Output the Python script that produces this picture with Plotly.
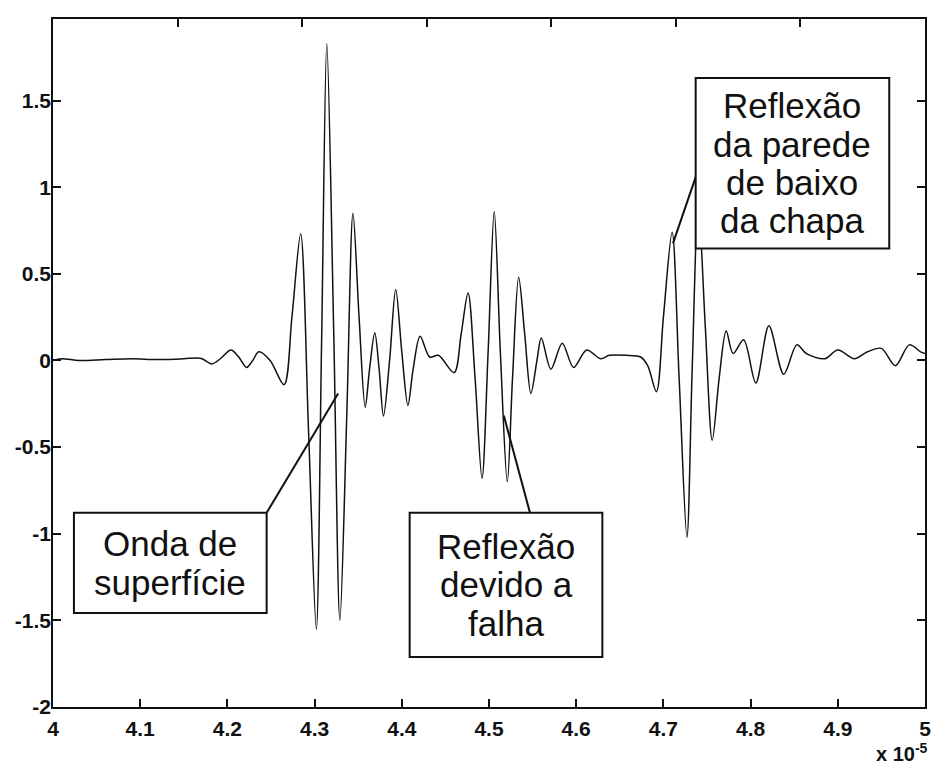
import plotly.graph_objects as go

# Time axis in units of 1e-5 s, amplitude in arbitrary units
time_e5 = [
    4.000, 4.010, 4.030, 4.060, 4.090, 4.120, 4.150, 4.165, 4.171,
    4.182, 4.192, 4.204, 4.213, 4.222, 4.229, 4.236, 4.249, 4.265,
    4.274, 4.284, 4.293, 4.302, 4.308, 4.314, 4.322, 4.329, 4.337,
    4.344, 4.351, 4.358, 4.363, 4.369, 4.374, 4.379, 4.386, 4.393,
    4.400, 4.407, 4.413, 4.421, 4.432, 4.442, 4.460, 4.468, 4.476,
    4.484, 4.492, 4.499, 4.506, 4.513, 4.521, 4.527, 4.534, 4.541,
    4.548, 4.555, 4.560, 4.571, 4.584, 4.597, 4.612, 4.628, 4.638,
    4.657, 4.674, 4.682, 4.692, 4.700, 4.710, 4.718, 4.727, 4.733,
    4.740, 4.748, 4.756, 4.764, 4.772, 4.780, 4.792, 4.806, 4.821,
    4.838, 4.853, 4.864, 4.885, 4.900, 4.919, 4.934, 4.950, 4.966,
    4.982, 4.995, 5.000,
]
amplitude = [
    0.000, 0.010, 0.000, 0.005, 0.010, 0.005, 0.010, 0.015, 0.010,
    -0.020, 0.010, 0.060, 0.020, -0.040, 0.000, 0.050, 0.000, -0.140,
    0.250, 0.730, -0.400, -1.550, 0.100, 1.830, 0.150, -1.500, -0.300,
    0.850, 0.250, -0.270, -0.050, 0.160, -0.050, -0.320, 0.000, 0.410,
    0.050, -0.260, -0.050, 0.140, 0.020, 0.030, -0.070, 0.150, 0.390,
    -0.100, -0.680, 0.050, 0.860, 0.050, -0.700, -0.100, 0.480, 0.150,
    -0.190, 0.000, 0.130, -0.050, 0.100, -0.040, 0.060, 0.010, 0.030,
    0.030, 0.020, -0.030, -0.180, 0.250, 0.740, -0.100, -1.020, -0.050,
    0.910, 0.200, -0.460, -0.100, 0.170, 0.040, 0.120, -0.130, 0.200,
    -0.080, 0.090, 0.040, 0.010, 0.060, 0.010, 0.050, 0.070, -0.030,
    0.090, 0.050, 0.040,
]

x_tick_vals = [4.0, 4.1, 4.2, 4.3, 4.4, 4.5, 4.6, 4.7, 4.8, 4.9, 5.0]
x_tick_text = ["4", "4.1", "4.2", "4.3", "4.4", "4.5", "4.6", "4.7", "4.8", "4.9", "5"]
y_tick_vals = [-2.0, -1.5, -1.0, -0.5, 0.0, 0.5, 1.0, 1.5]
y_tick_text = ["-2", "-1.5", "-1", "-0.5", "0", "0.5", "1", "1.5"]
# tick marks along the upper frame (seven equal divisions)
top_tick_vals = [1, 2, 3, 4, 5, 6]

# Callout boxes: lines of text, box corners (x0, y0, x1, y1),
# leader line (from x, from y, to x, to y)
callouts = [
    (["Onda de", "superfície"],
     (4.024, -0.879, 4.245, -1.457),
     (4.245, -0.879, 4.327, -0.190)),
    (["Reflexão", "devido a", "falha"],
     (4.409, -0.879, 4.630, -1.711),
     (4.547, -0.879, 4.517, -0.318)),
    (["Reflexão", "da parede", "de baixo", "da chapa"],
     (4.737, 1.630, 4.959, 0.647),
     (4.737, 1.058, 4.711, 0.676)),
]

FONT = "Liberation Sans, Arial, sans-serif"
INK = "#111111"
LINE_STEP = 0.222   # vertical distance between callout text lines (data units)

fig = go.Figure()
fig.add_trace(go.Scatter(
    x=time_e5, y=amplitude, mode="lines",
    line=dict(color=INK, width=1.5, shape="spline", smoothing=0.9),
    hoverinfo="skip", showlegend=False,
))
# invisible trace that carries the upper frame's own tick marks
fig.add_trace(go.Scatter(x=[0, 7], y=[0, 0], xaxis="x2", yaxis="y", mode="lines",
                         line=dict(width=0), hoverinfo="skip", showlegend=False))

for lines, (bx0, by0, bx1, by1), (lx0, ly0, lx1, ly1) in callouts:
    fig.add_shape(type="line", xref="x", yref="y", x0=lx0, y0=ly0, x1=lx1, y1=ly1,
                  line=dict(color=INK, width=2))
    fig.add_shape(type="rect", xref="x", yref="y", x0=bx0, y0=by0, x1=bx1, y1=by1,
                  line=dict(color=INK, width=2), fillcolor="white", layer="above")
    cx = (bx0 + bx1) / 2
    cy = (by0 + by1) / 2
    n = len(lines)
    for i, line_text in enumerate(lines):
        fig.add_annotation(
            x=cx, y=cy + ((n - 1) / 2 - i) * LINE_STEP, xref="x", yref="y",
            text=line_text, showarrow=False, xanchor="center", yanchor="middle",
            font=dict(family=FONT, size=35, color=INK),
        )

fig.add_annotation(
    xref="paper", yref="paper", x=1.006, y=-0.066, xanchor="right", yanchor="middle",
    text="x 10<sup>-5</sup>", showarrow=False,
    font=dict(family=FONT, size=20, color=INK, weight="bold"),
)

tick_font = dict(family=FONT, size=21, color=INK, weight="bold")

fig.update_layout(
    width=941, height=767,
    margin=dict(l=53, r=10, t=19, b=60),
    paper_bgcolor="white", plot_bgcolor="white",
    font=dict(family=FONT, color=INK),
    xaxis=dict(
        range=[4.0, 5.0], tickvals=x_tick_vals, ticktext=x_tick_text,
        ticks="inside", ticklen=8, tickwidth=1.5, tickcolor=INK,
        showline=True, linecolor=INK, linewidth=1.5, mirror=False,
        showgrid=False, zeroline=False, ticklabelstandoff=2,
        tickfont=tick_font,
    ),
    xaxis2=dict(
        overlaying="x", anchor="y", side="top", range=[0, 7],
        tickvals=top_tick_vals,
        showticklabels=False, ticks="inside", ticklen=8, tickwidth=1.5,
        tickcolor=INK, showline=True, linecolor=INK, linewidth=1.5,
        showgrid=False, zeroline=False,
    ),
    yaxis=dict(
        range=[-2.0, 1.971], tickvals=y_tick_vals, ticktext=y_tick_text,
        ticks="inside", ticklen=8, tickwidth=1.5, tickcolor=INK,
        showline=True, linecolor=INK, linewidth=1.5, mirror="ticks",
        showgrid=False, zeroline=False, ticklabelstandoff=-4,
        tickfont=tick_font,
    ),
)

fig.write_html("out.html")
